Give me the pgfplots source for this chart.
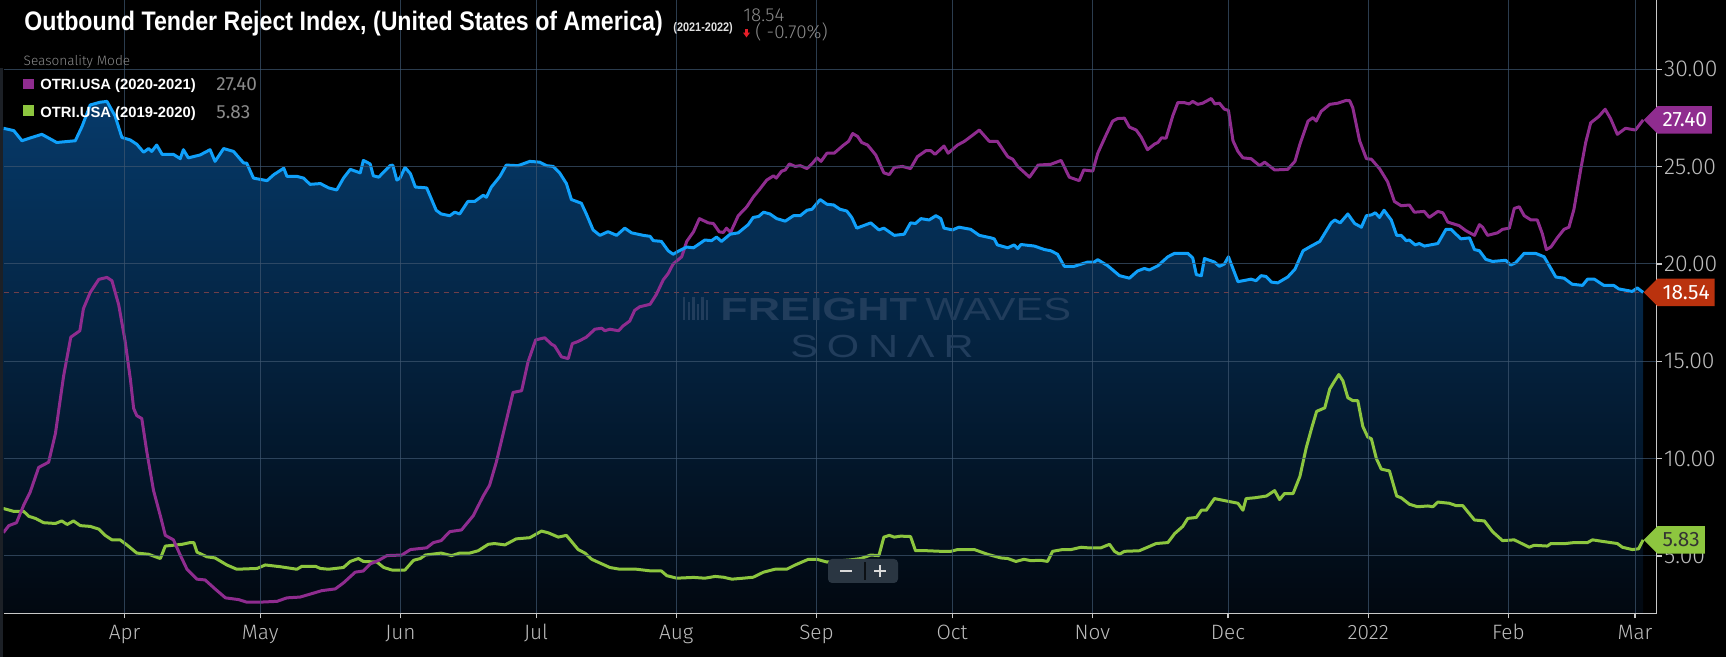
\documentclass[border=0pt]{standalone}
\usepackage{pgfplots}
\usepackage{pgfplotstable}
\pgfplotsset{compat=1.18}
\usetikzlibrary{shapes.symbols}
\usepackage{fontspec}
\setmainfont{Liberation Sans}
\newfontfamily\titlefont{Liberation Sans}[FakeStretch=0.865]
\newfontfamily\smallcond{Liberation Sans}[FakeStretch=0.88]
\newfontfamily\lightfont{Fira Sans Light}
\newfontfamily\regfont{Fira Sans}
\newfontfamily\wmbold{Liberation Sans}[FakeStretch=1.4]
\newfontfamily\wmreg{Liberation Sans}[FakeStretch=1.3]

\definecolor{blueline}{RGB}{16,160,250}
\definecolor{purp}{RGB}{143,44,143}
\definecolor{grn}{RGB}{141,198,63}
\definecolor{redtag}{RGB}{186,50,14}
\definecolor{gridc}{RGB}{62,86,112}
\definecolor{axisc}{RGB}{200,200,200}
\definecolor{tickgray}{RGB}{188,188,188}
\definecolor{valgray}{RGB}{138,138,138}
\definecolor{filltop}{RGB}{6,58,106}
\definecolor{fillbot}{RGB}{2,8,16}
\definecolor{dashc}{RGB}{112,62,72}
\definecolor{wm}{RGB}{33,61,92}
\definecolor{btn}{RGB}{42,54,66}
\definecolor{arrowred}{RGB}{230,30,40}
\definecolor{edge}{RGB}{28,32,38}
\pagecolor{black}

% day 0 = 1 Apr 2021
\pgfplotstableread{
d v
-26.8 26.97
-24.5 26.85
-22.7 26.33
-20.5 26.50
-18.3 26.66
-15.0 26.24
-10.9 26.33
-9.4 27.07
-7.6 28.17
-5.4 28.31
-3.9 28.35
-2.1 27.60
-0.6 26.50
1.25 26.37
2.7 26.15
4.2 25.74
5.3 25.93
6.0 25.78
7.1 26.11
8.3 25.63
10.8 25.63
12.3 25.41
13.0 25.87
14.1 25.45
16.7 25.60
18.9 25.87
20.0 25.27
21.9 25.93
24.1 25.78
26.3 25.19
27.0 25.18
28.5 24.41
31.5 24.28
33.0 24.59
35.2 24.92
35.9 24.50
38.1 24.50
39.6 24.41
41.0 24.09
43.3 24.13
45.1 23.91
46.9 23.80
48.4 24.41
49.9 24.86
52.1 24.68
52.8 25.32
54.3 25.14
55.0 24.53
56.2 24.46
58.7 25.05
59.3 25.08
60.2 24.31
60.9 24.41
62.0 24.96
63.2 24.64
64.3 23.95
66.8 23.91
68.9 22.76
70.0 22.57
71.9 22.48
73.0 22.66
74.1 22.57
75.9 23.21
77.4 23.21
79.3 23.53
80.0 23.43
81.1 23.95
83.0 24.50
84.4 25.08
87.0 25.05
89.6 25.27
91.8 25.23
93.3 25.05
94.8 25.01
96.2 24.68
97.7 24.13
98.8 23.31
101.0 23.12
102.1 22.57
103.6 21.75
105.1 21.47
106.9 21.66
108.8 21.47
110.6 21.84
112.1 21.60
114.7 21.47
116.2 21.42
116.9 21.20
118.7 21.16
120.2 20.68
121.3 20.50
122.4 20.65
124.3 20.87
125.8 20.83
128.3 21.23
129.8 21.20
130.9 21.38
132.0 21.16
133.9 21.53
135.7 21.60
137.9 22.02
139.0 22.39
140.2 22.44
141.3 22.66
142.7 22.57
144.2 22.33
146.1 22.20
147.9 22.48
149.4 22.48
150.9 22.76
152.0 22.81
153.8 23.31
155.3 23.07
156.8 23.03
158.2 22.81
159.7 22.72
160.8 22.39
161.9 21.84
163.4 21.97
165.0 22.11
166.8 21.75
167.9 21.84
170.2 21.47
172.4 21.53
173.8 22.11
174.9 22.08
176.1 22.33
177.9 22.26
179.4 22.48
180.5 22.33
181.2 21.84
183.1 21.75
184.5 21.89
187.1 21.78
189.0 21.47
191.6 21.34
192.3 21.29
193.0 20.98
195.3 20.83
196.7 20.98
197.5 20.79
198.2 21.00
201.2 20.92
203.4 20.74
204.8 20.68
206.3 20.50
207.8 19.88
210.0 19.88
213.0 20.10
214.4 20.10
215.2 20.22
217.4 19.91
220.0 19.40
222.2 19.27
224.0 19.64
225.5 19.77
226.6 19.69
228.5 19.91
230.7 20.37
232.2 20.55
235.1 20.55
236.2 20.31
237.0 19.45
238.1 19.40
238.8 20.28
241.0 20.10
242.1 19.88
243.2 20.00
244.1 20.37
246.2 19.09
249.1 19.22
250.2 19.14
251.3 19.40
252.4 19.36
253.6 19.07
255.0 19.03
257.2 19.33
258.8 19.73
260.6 20.68
262.4 20.92
264.3 21.16
266.8 22.11
267.6 22.26
268.8 22.11
270.5 22.57
272.0 22.08
273.5 21.89
274.6 22.48
275.7 22.52
276.6 22.63
277.5 22.39
278.5 22.76
280.1 22.26
281.3 21.47
282.3 21.47
283.4 21.20
284.1 21.23
285.4 20.98
286.3 21.05
287.4 20.92
290.4 21.05
292.2 21.78
293.3 21.78
295.5 21.29
297.4 21.34
298.5 20.74
299.6 20.68
301.0 20.24
302.5 20.13
305.4 20.19
306.5 19.95
307.6 20.06
309.5 20.55
312.1 20.54
313.9 20.37
316.5 19.33
318.3 19.27
320.1 18.96
322.4 18.90
323.5 19.22
325.0 19.22
327.1 18.90
329.3 18.90
330.4 18.72
333.4 18.59
334.5 18.77
335.8 18.54
}\bluedata

\pgfplotstableread{
d v
-26.8 6.20
-25.6 6.56
-23.9 6.71
-22.3 7.62
-20.9 8.27
-19.0 9.55
-16.8 9.82
-15.3 11.29
-13.5 14.23
-11.9 16.24
-9.9 16.57
-9.1 17.71
-7.6 18.54
-5.7 19.21
-3.9 19.31
-2.8 19.14
-1.3 17.90
0.1 16.06
1.3 14.04
2.0 12.58
2.7 12.21
3.8 12.06
4.9 10.37
6.4 8.36
7.9 7.07
9.0 6.06
10.8 5.83
12.3 5.05
13.8 4.32
16.0 3.81
17.8 3.77
20.0 3.31
22.3 2.85
25.2 2.76
27.0 2.63
30.0 2.63
33.7 2.67
35.9 2.85
38.8 2.89
41.0 3.04
43.6 3.22
46.6 3.31
48.4 3.62
51.0 4.17
52.8 4.23
54.3 4.59
56.2 4.78
58.0 5.02
61.3 5.05
63.2 5.33
66.8 5.42
68.3 5.69
70.0 5.79
71.9 6.25
74.5 6.34
77.1 7.07
79.3 8.08
80.7 8.63
82.2 9.82
84.1 11.66
85.9 13.40
87.8 13.49
89.2 14.96
90.9 16.10
92.9 16.21
94.4 15.88
95.1 15.79
96.6 15.23
98.1 15.14
99.0 15.91
100.3 16.02
102.1 16.24
104.0 16.65
105.5 16.70
106.2 16.57
107.3 16.65
109.2 16.57
110.3 16.83
111.7 17.07
112.8 17.62
113.9 17.80
116.2 17.93
117.6 18.44
119.1 19.18
120.2 19.51
121.3 20.00
123.2 20.37
124.3 21.16
125.8 21.65
127.1 22.33
129.1 22.11
130.2 22.08
131.5 21.65
132.4 21.62
133.1 21.84
134.0 21.62
135.7 22.48
137.6 22.94
139.0 23.43
140.5 23.86
142.0 24.31
143.5 24.53
144.1 24.41
145.3 24.77
146.1 24.83
147.0 25.14
148.3 25.01
149.4 25.05
150.9 24.90
152.0 25.14
153.1 25.45
154.0 25.27
155.3 25.69
156.9 25.69
159.0 26.11
160.1 26.30
161.0 26.70
162.1 26.55
163.0 26.24
164.3 26.11
166.1 25.60
167.9 24.68
169.1 24.59
170.2 24.96
172.0 25.01
173.8 24.90
175.3 25.51
177.2 25.82
178.3 25.82
179.2 25.63
181.2 26.06
182.1 25.69
184.2 26.11
185.7 26.30
187.5 26.61
189.0 26.88
191.2 26.30
193.0 26.30
195.3 25.51
196.4 25.38
197.5 25.01
200.1 24.46
202.0 25.08
204.8 25.12
207.1 25.32
208.9 24.46
211.1 24.28
212.1 24.83
214.1 24.77
215.2 25.69
217.1 26.66
218.5 27.34
219.6 27.47
221.1 27.49
222.2 27.03
223.7 26.88
224.8 26.52
226.2 25.87
227.7 26.15
228.5 26.24
229.3 26.48
230.3 26.46
231.8 27.62
232.9 28.29
234.3 28.29
235.4 28.22
236.2 28.35
237.3 28.20
238.4 28.26
240.3 28.50
241.1 28.22
242.1 28.26
243.2 27.95
244.1 27.89
245.1 26.33
246.2 25.78
247.3 25.45
249.1 25.41
251.0 25.05
252.1 25.23
254.3 24.83
257.2 24.86
258.8 25.27
259.9 26.15
261.7 27.34
262.8 27.52
263.5 27.34
264.6 27.84
266.5 28.20
268.3 28.26
270.1 28.40
270.9 28.39
271.6 28.02
273.1 26.33
274.6 25.41
275.7 25.38
277.5 24.90
279.3 24.22
280.8 23.21
282.3 22.99
284.1 23.03
285.2 22.66
287.4 22.70
288.5 22.39
290.4 22.70
291.5 22.63
292.6 22.15
295.1 21.97
296.6 21.71
298.5 21.47
299.6 22.02
300.3 21.89
301.4 21.47
303.6 21.60
304.7 21.78
306.2 21.84
307.3 22.85
308.4 22.94
309.5 22.48
311.0 22.26
312.4 22.26
313.5 21.56
314.4 20.74
315.4 20.87
316.8 21.34
318.3 21.78
319.4 21.89
320.5 22.81
322.0 24.86
323.1 26.24
324.2 27.25
326.0 27.58
327.4 27.95
328.6 27.47
330.1 26.66
331.9 26.97
334.1 26.88
335.8 27.40
}\purpledata

\pgfplotstableread{
d v
-26.8 7.44
-24.5 7.29
-22.3 7.29
-21.2 7.04
-19.7 6.93
-17.9 6.71
-15.3 6.67
-13.9 6.80
-12.7 6.62
-11.3 6.80
-9.8 6.56
-7.6 6.52
-5.7 6.38
-4.3 6.06
-2.8 5.83
-1.0 5.83
0.5 5.57
2.7 5.15
5.3 5.09
7.9 4.87
9.0 5.51
12.7 5.60
14.5 5.69
15.3 5.69
16.0 5.20
18.2 4.96
20.0 4.90
22.6 4.54
24.8 4.32
29.3 4.36
31.1 4.54
34.4 4.45
38.1 4.32
39.2 4.47
42.2 4.47
43.3 4.36
45.1 4.32
48.4 4.41
49.9 4.72
51.7 4.87
52.8 4.72
55.8 4.69
57.3 4.41
59.1 4.28
62.0 4.28
63.9 4.78
65.4 4.87
66.5 5.05
70.0 5.15
72.3 5.02
74.1 5.15
76.3 5.15
78.2 5.27
80.4 5.60
81.8 5.64
84.1 5.57
86.6 5.88
89.6 5.94
92.2 6.28
93.7 6.19
95.9 5.97
97.7 6.06
99.2 5.64
100.3 5.33
101.8 5.15
103.3 4.83
107.3 4.41
109.5 4.32
113.2 4.32
116.5 4.23
118.7 4.23
119.9 3.99
122.1 3.86
125.8 3.90
128.3 3.86
130.6 3.95
132.4 3.91
134.3 3.81
136.8 3.86
139.0 3.91
141.3 4.17
143.8 4.32
146.4 4.32
148.3 4.54
151.2 4.83
153.1 4.83
155.3 4.69
158.0 4.75
160.5 4.80
162.8 4.87
165.0 5.05
166.8 5.02
167.9 5.97
169.1 6.06
170.2 5.97
171.6 6.02
173.8 6.00
174.9 5.27
177.5 5.27
180.5 5.24
182.7 5.24
184.2 5.33
187.9 5.33
190.8 5.09
193.8 4.90
195.3 4.87
197.1 4.72
198.9 4.83
200.4 4.76
202.6 4.78
204.1 4.72
205.2 5.24
207.4 5.33
209.3 5.33
211.5 5.45
213.0 5.42
215.9 5.42
217.8 5.60
218.9 5.24
220.0 5.09
221.1 5.24
224.4 5.27
226.2 5.45
228.1 5.64
230.7 5.69
232.2 6.15
234.0 6.52
235.1 6.93
237.0 6.98
238.1 7.35
239.2 7.35
241.0 7.95
244.0 7.81
246.2 7.71
247.3 7.35
248.0 7.95
249.9 7.99
252.5 8.08
254.3 8.36
255.4 7.90
256.5 8.21
258.4 8.21
259.9 9.09
261.3 10.56
262.5 11.57
263.6 12.43
265.4 12.61
266.5 13.58
267.6 14.00
268.5 14.32
269.4 14.00
270.5 13.13
271.6 12.98
272.7 12.98
273.8 11.66
274.9 11.11
275.7 11.02
276.8 10.01
277.9 9.46
279.7 9.37
281.3 8.08
282.3 7.99
284.1 7.66
285.9 7.53
288.2 7.57
289.3 7.53
290.4 7.77
292.9 7.71
294.4 7.59
295.9 7.59
298.5 6.85
300.7 6.80
302.5 6.25
304.7 5.79
307.3 5.83
310.6 5.45
311.7 5.55
314.6 5.51
315.4 5.64
318.7 5.64
320.5 5.69
323.5 5.69
324.6 5.83
326.8 5.75
330.1 5.64
331.2 5.45
333.4 5.33
334.8 5.37
335.8 5.83
}\greendata

\begin{document}
\begin{tikzpicture}[
  tag/.style={shape=signal, signal to=west, signal pointer angle=90,
    anchor=west, minimum height=13.8pt, inner xsep=2.5pt, inner ysep=0pt,
    font=\regfont\fontsize{10.4}{10.4}\selectfont}]
\path[use as bounding box] (0,0) rectangle (863pt,328.5pt);
\fill[edge] (0,0) rectangle (1.6pt,294.5pt);

\begin{axis}[
  at={(1.75pt,21.85pt)}, anchor=south west,
  scale only axis, width=826.6pt, height=306.65pt,
  xmin=-26.78, xmax=338.8, ymin=2.057, ymax=33.56,
  axis on top,
  axis x line*=bottom, axis y line*=right,
  axis line style={draw=axisc, line width=0.75pt},
  tick align=outside, major tick length=2.5pt,
  tick style={draw=axisc, line width=0.6pt},
  xtick={0,30,61,91,122,153,183,214,244,275,306,334},
  xticklabels={Apr,May,Jun,Jul,Aug,Sep,Oct,Nov,Dec,2022,Feb,Mar},
  ytick={5,10,15,20,25,30},
  yticklabels={5.00,10.00,15.00,20.00,25.00,30.00},
  xmajorgrids, ymajorgrids,
  grid style={draw=gridc, line width=0.5pt, opacity=0.7},
  xticklabel style={font=\lightfont\fontsize{10.4}{10.4}\selectfont, text=tickgray,
    anchor=base, inner sep=0pt},
  xticklabel shift=10.8pt,
  yticklabel style={font=\lightfont\fontsize{11.5}{11.5}\selectfont, text=tickgray,
    anchor=west, inner sep=0pt},
  yticklabel shift=1pt,
]
\addplot[draw=none, top color=filltop, bottom color=fillbot]
  table[x=d, y=v]{\bluedata} \closedcycle;
\addplot[dashc, dash pattern=on 2.5pt off 2.5pt, line width=0.5pt]
  coordinates {(-26.78,18.54) (338.8,18.54)};
\addplot[grn, line width=1.5pt, line join=round] table[x=d, y=v]{\greendata}
  node[coordinate, pos=1] (gEnd) {};
\addplot[purp, line width=1.5pt, line join=round] table[x=d, y=v]{\purpledata}
  node[coordinate, pos=1] (pEnd) {};
\addplot[blueline, line width=1.5pt, line join=round] table[x=d, y=v]{\bluedata}
  node[coordinate, pos=1] (bEnd) {};
\end{axis}

% end-of-series tags
\node[tag, fill=purp, text=white] at (pEnd) {27.40};
\node[tag, fill=redtag, text=white] at (bEnd) {18.54};
\node[tag, fill=grn, text={black!80}] at (gEnd) {5.83};

% title line
\node[anchor=base west, inner sep=0pt, text=white,
  font=\titlefont\bfseries\fontsize{13.4}{13.4}\selectfont] at (12pt,313.15pt)
  {Outbound Tender Reject Index, (United States of America)};
\node[anchor=base west, inner sep=0pt, text=white!88!black,
  font=\smallcond\bfseries\fontsize{6.2}{6.2}\selectfont] at (336.5pt,312.65pt) {(2021-2022)};
\node[anchor=base west, inner sep=0pt, text=valgray,
  font=\lightfont\fontsize{9.4}{9.4}\selectfont] at (371.5pt,317.5pt) {18.54};
\fill[arrowred] (372.4pt,314.2pt) rectangle (374.1pt,312pt);
\fill[arrowred] (371.5pt,312.2pt) -- (375pt,312.2pt) -- (373.25pt,309.8pt) -- cycle;
\node[anchor=base west, inner sep=0pt, text=valgray,
  font=\lightfont\fontsize{9.4}{9.4}\selectfont] at (377.5pt,309pt) {( -0.70\%)};

% legend
\node[anchor=base west, inner sep=0pt, text=valgray,
  font=\lightfont\fontsize{6.8}{6.8}\selectfont] at (11.65pt,295.5pt) {Seasonality Mode};
\fill[purp] (11.65pt,283.85pt) rectangle (17.15pt,289pt);
\node[anchor=base west, inner sep=0pt, text=white,
  font=\bfseries\fontsize{7.4}{7.4}\selectfont] at (20pt,283.5pt) {OTRI.USA (2020-2021)};
\node[anchor=base west, inner sep=0pt, text=valgray,
  font=\regfont\fontsize{9.5}{9.5}\selectfont] at (108pt,283.2pt) {27.40};
\fill[grn] (11.65pt,270.65pt) rectangle (17.15pt,275.8pt);
\node[anchor=base west, inner sep=0pt, text=white,
  font=\bfseries\fontsize{7.4}{7.4}\selectfont] at (20pt,269.5pt) {OTRI.USA (2019-2020)};
\node[anchor=base west, inner sep=0pt, text=valgray,
  font=\regfont\fontsize{9.5}{9.5}\selectfont] at (108pt,269.2pt) {5.83};

% watermark
\foreach \i/\h in {0/11.5,1/9,2/11.5,3/8,4/11.5,5/10}
  \fill[wm] (341.5pt+\i*2.3pt,168.5pt) rectangle ++(1.2pt,\h pt);
\node[anchor=base west, inner sep=0pt, text=wm,
  font=\wmbold\bfseries\fontsize{16}{16}\selectfont] at (360pt,168pt) {FREIGHT};
\node[anchor=base west, inner sep=0pt, text=wm,
  font=\wmreg\fontsize{16}{16}\selectfont] at (462.5pt,168pt) {WAVES};
\node[anchor=base west, inner sep=0pt, text=wm,
  font=\wmreg\fontsize{16}{16}\selectfont] at (395pt,149.5pt)
  {S\hspace{4.4pt}O\hspace{4.4pt}N\hspace{4.4pt}Λ\hspace{4.4pt}R};

% zoom buttons
\fill[btn, rounded corners=2pt] (414pt,37pt) rectangle (449pt,49pt);
\draw[black!70!btn, line width=0.6pt] (432.5pt,38.5pt) -- (432.5pt,47.5pt);
\draw[white!85!black, line width=1.2pt] (420pt,43pt) -- (426pt,43pt);
\draw[white!85!black, line width=1.2pt] (437pt,43pt) -- (443pt,43pt)
  (440pt,40pt) -- (440pt,46pt);
\end{tikzpicture}
\end{document}
